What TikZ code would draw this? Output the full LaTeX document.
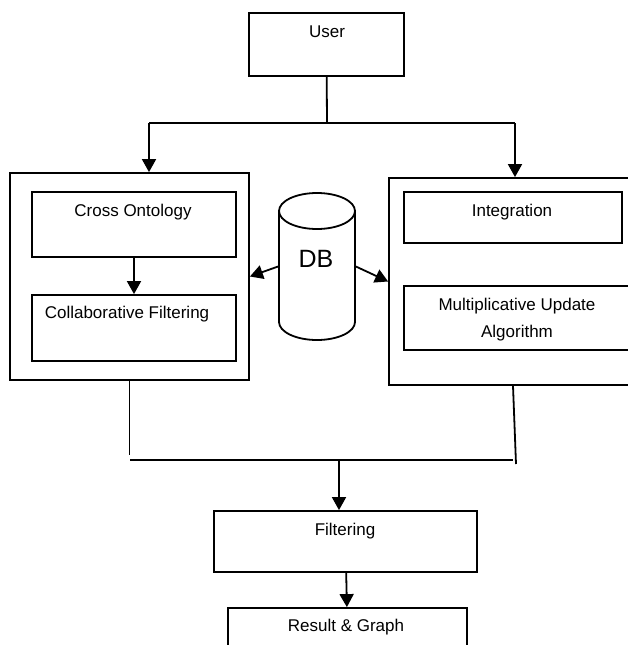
\documentclass[tikz,border=0pt]{standalone}
\usepackage{fontspec}
\setmainfont{Liberation Sans}
\usetikzlibrary{arrows.meta}

\begin{document}
\begin{tikzpicture}[x=1pt,y=-1pt,line width=1.8pt,
  box/.style={draw,inner sep=0pt},
  lbl/.style={anchor=base,font=\fontsize{17}{27}\selectfont,align=center},
  arr/.style={-{Triangle[length=13pt,width=14pt]}}]
\useasboundingbox (0,0) rectangle (628,645);
\clip (0,0) rectangle (628,645);
\foreach \n/\x/\y/\w/\h in {user/326.5/44.5/155/63, left/129.5/276.5/239/207, cross/134/224.5/204/65, collab/134/328/204/66, right/519.5/281.5/261/207, integ/513/217.5/218/51, multi/527/318/246/64, filter/345.5/541.5/263/61, result/347.5/634/239/52}
  \node[box,minimum width=\w pt,minimum height=\h pt] (\n) at (\x,\y) {};
% DB drum
\node[inner sep=0pt,minimum width=76pt,minimum height=147pt] (db) at (317,266.5) {};
\draw[fill=white] (279,211) -- (279,322) arc (180:360:38pt and 18pt) -- (355,211);
\draw (317,211) ellipse (38pt and 18pt);
\node[anchor=base,font=\fontsize{25}{30}\selectfont] (tdb) at (316,267) {DB};
\foreach \n/\x/\y/\t in {user/327/37/User, cross/133/216/Cross Ontology, collab/127/318/Collaborative Filtering, integ/512/216/Integration, multi/517/337/{Multiplicative Update\\Algorithm}, filter/345/535/Filtering, result/346/631/Result \& Graph}
  \node[lbl] (t\n) at (\x,\y) {\t};
% User splits to both sides
\coordinate (split) at (327,123);
\coordinate (tl) at (149,123);
\coordinate (tr) at (515,123);
\draw (user) -- (split);
\draw (tl) -- (tr);
\draw[arr] (tl) -- (tl |- left.north);
\draw[arr] (tr) -- (tr |- right.north);
\draw[arr] (cross) -- (collab);
\draw[arr] (db.west) -- (left.east);
\draw[arr] (db.east) -- (right.west);
% both sides join again
\coordinate (lb) at (130,455);
\coordinate (rb) at (516,464);
\coordinate (jl) at (130,460);
\coordinate (jr) at (513,460);
\coordinate (jm) at (339,460);
\draw (left.south) -- (left.south |- lb);
\draw (right.south -| jr) -- (rb);
\draw (jl) -- (jr);
\draw[arr] (jm) -- (jm |- filter.north);
\draw[arr] (filter) -- (result);
\end{tikzpicture}
\end{document}
